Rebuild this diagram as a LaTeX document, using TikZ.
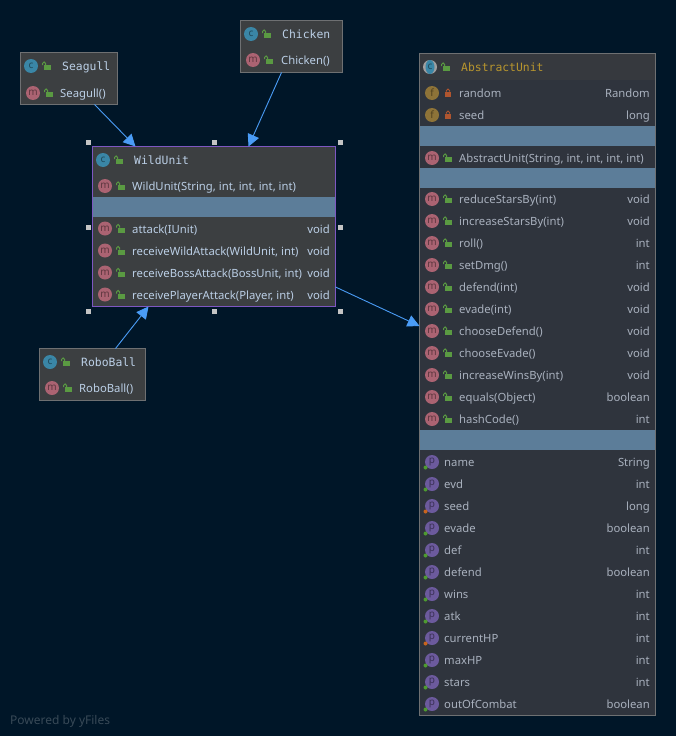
\documentclass[tikz,border=0pt]{standalone}
\usepackage{fontspec}
\setmainfont{Noto Sans}
\newfontfamily\titlefont{DejaVu Sans Mono}
\usetikzlibrary{arrows.meta,calc}
\definecolor{bgc}{HTML}{001628}
\definecolor{boxc}{HTML}{3C3F41}
\definecolor{absc}{HTML}{2F343D}
\definecolor{abshead}{HTML}{36393E}
\definecolor{edgec}{HTML}{6E7072}
\definecolor{sepc}{HTML}{5C7D99}
\definecolor{selc}{HTML}{7E57C2}
\definecolor{txtc}{HTML}{BBCFE6}
\definecolor{atxt}{HTML}{A9B1BE}
\definecolor{arrowc}{HTML}{4A9CF6}
\definecolor{iconc}{HTML}{3A86A6}
\definecolor{iconm}{HTML}{AB6372}
\definecolor{iconf}{HTML}{8E7338}
\definecolor{iconp}{HTML}{6C5A9D}
\definecolor{lockg}{HTML}{5A9A42}
\definecolor{lockr}{HTML}{B0552F}
\definecolor{dotg}{HTML}{4E9A30}
\definecolor{doto}{HTML}{C8641E}
\definecolor{titlegold}{HTML}{B8962E}
\definecolor{handlec}{HTML}{C4C4C4}
\tikzset{
  x=1pt,y=-1pt,
  classbox/.style={draw=edgec,fill=boxc,line width=1pt,rectangle,inner sep=0pt,outer sep=0pt,anchor=north west},
  inherit/.style={draw=arrowc,line width=0.9pt,-{Triangle[length=12pt,width=12pt,fill=arrowc]},shorten >=0pt},
  handle/.style={fill=handlec,draw=none,rectangle,inner sep=0pt,minimum size=5pt},
  lbl/.style={anchor=base west,inner sep=0pt,font=\fontsize{11.3}{13}\selectfont},
  rlbl/.style={anchor=base east,inner sep=0pt,font=\fontsize{11.3}{13}\selectfont},
  ttl/.style={anchor=base west,inner sep=0pt,font=\titlefont\fontsize{11.4}{13}\selectfont},
  icn/.style={circle,inner sep=0pt,minimum size=14pt,font=\fontsize{10}{10}\selectfont},
}
% icon: x, y, fill colour, letter, name
\newcommand{\icn}[5]{\node[icn,fill=#3,text=#3!55!black] (#5) at (#1,#2) {#4};}
% open green lock
\newcommand{\oplock}[2]{%
  \fill[lockg] (#1-2.5,#2-1) rectangle (#1+4.5,#2+4);
  \draw[lockg,line width=1pt] (#1-3.5,#2-1) -- (#1-3.5,#2-2.5) arc[start angle=180,end angle=0,x radius=1.6pt,y radius=1.6pt] -- (#1-0.3,#2-1);}
% closed red lock
\newcommand{\cllock}[2]{%
  \fill[lockr] (#1-3,#2-1.3) rectangle (#1+3,#2+4);
  \draw[lockr,line width=1pt] (#1-1.6,#2-1.3) -- (#1-1.6,#2-2.4) arc[start angle=180,end angle=0,x radius=1.6pt,y radius=1.6pt] -- (#1+1.6,#2-1.3);}
% method row: icon x, lock x, text x, y, text, right text, right x, text colour
\newcommand{\mrow}[8]{%
  \icn{#1}{#4}{iconm}{m}{mi#1x#4}
  \oplock{#2}{#4}
  \node[lbl,text=#8] (mt#1x#4) at (#3,#4+4.8) {#5};
  \node[rlbl,text=#8] (mr#1x#4) at (#7,#4+4.8) {#6};}
\newcommand{\frow}[3]{%
  \icn{432}{#1}{iconf}{f}{fi#1}
  \cllock{448}{#1}
  \node[lbl,text=atxt] (ft#1) at (459,#1+4.8) {#2};
  \node[rlbl,text=atxt] (fr#1) at (650,#1+4.8) {#3};}
\newcommand{\prow}[4]{%
  \icn{432}{#1}{iconp}{p}{pi#1}
  \fill[#4] (425.5,#1+5.5) circle[radius=2pt];
  \node[lbl,text=atxt] (pt#1) at (444,#1+4.8) {#2};
  \node[rlbl,text=atxt] (pr#1) at (650,#1+4.8) {#3};}
\begin{document}
\begin{tikzpicture}
\useasboundingbox (0,0) rectangle (676,736);
\fill[bgc] (0,0) rectangle (676,736);
\node[anchor=base west,inner sep=0pt,text=white!22!bgc,font=\fontsize{12}{14}\selectfont] (yf) at (10,724) {Powered by yFiles};

% ---------- Abstract unit
\node[classbox,fill=absc,minimum width=236pt,minimum height=662pt] (abs) at (419.5,53.5) {};
\fill[abshead] (420,54) rectangle (655,80);
\fill[sepc] (420,126) rectangle (655,146);
\fill[sepc] (420,168) rectangle (655,188);
\fill[sepc] (420,430) rectangle (655,450);
\fill[gray!75] (430,67) circle[radius=7pt];
\fill[iconc] (430,67) ellipse[x radius=4.5pt,y radius=7pt];
\node[inner sep=0pt,text=iconc!55!black,font=\fontsize{10}{10}\selectfont] (absl) at (430,67) {c};
\oplock{445}{67}
\node[ttl,text=titlegold] (abst) at (461,71) {AbstractUnit};
\frow{93}{random}{Random}
\frow{115}{seed}{long}
\mrow{432}{447}{459}{158}{AbstractUnit(String, int, int, int, int)}{}{650}{atxt}
\mrow{432}{447}{459}{199}{reduceStarsBy(int)}{void}{650}{atxt}
\mrow{432}{447}{459}{221}{increaseStarsBy(int)}{void}{650}{atxt}
\mrow{432}{447}{459}{243}{roll()}{int}{650}{atxt}
\mrow{432}{447}{459}{265}{setDmg()}{int}{650}{atxt}
\mrow{432}{447}{459}{287}{defend(int)}{void}{650}{atxt}
\mrow{432}{447}{459}{309}{evade(int)}{void}{650}{atxt}
\mrow{432}{447}{459}{331}{chooseDefend()}{void}{650}{atxt}
\mrow{432}{447}{459}{353}{chooseEvade()}{void}{650}{atxt}
\mrow{432}{447}{459}{375}{increaseWinsBy(int)}{void}{650}{atxt}
\mrow{432}{447}{459}{397}{equals(Object)}{boolean}{650}{atxt}
\mrow{432}{447}{459}{419}{hashCode()}{int}{650}{atxt}
\prow{462}{name}{String}{dotg}
\prow{484}{evd}{int}{dotg}
\prow{506}{seed}{long}{doto}
\prow{528}{evade}{boolean}{dotg}
\prow{550}{def}{int}{dotg}
\prow{572}{defend}{boolean}{dotg}
\prow{594}{wins}{int}{dotg}
\prow{616}{atk}{int}{dotg}
\prow{638}{currentHP}{int}{doto}
\prow{660}{maxHP}{int}{dotg}
\prow{682}{stars}{int}{dotg}
\prow{704}{outOfCombat}{boolean}{dotg}

% ---------- WildUnit
\node[classbox,draw=selc,minimum width=243pt,minimum height=160pt] (wild) at (92.5,146.5) {};
\fill[sepc] (93,197) rectangle (335,217);
\icn{103}{160}{iconc}{c}{wci}
\oplock{118}{160}
\node[ttl,text=txtc] (wt) at (134,164) {WildUnit};
\mrow{105}{120}{132}{186}{WildUnit(String, int, int, int, int)}{}{330}{txtc}
\mrow{105}{120}{132}{228.5}{attack(IUnit)}{void}{330}{txtc}
\mrow{105}{120}{132}{250.5}{receiveWildAttack(WildUnit, int)}{void}{330}{txtc}
\mrow{105}{120}{132}{272.5}{receiveBossAttack(BossUnit, int)}{void}{330}{txtc}
\mrow{105}{120}{132}{294.5}{receivePlayerAttack(Player, int)}{void}{330}{txtc}
\foreach \hx/\hy/\hn in {88/142/a,214/142/b,340/142/c,88/227/d,340/227/e,88/311/f,214/311/g,340/311/h}
  \node[handle] (h\hn) at (\hx,\hy) {};

% ---------- Seagull
\node[classbox,minimum width=97pt,minimum height=52pt] (sea) at (20.5,52.5) {};
\icn{31}{66}{iconc}{c}{sci}
\oplock{46}{66}
\node[ttl,text=txtc] (st) at (62,70) {Seagull};
\mrow{33}{48}{60}{93}{Seagull()}{}{110}{txtc}

% ---------- Chicken
\node[classbox,minimum width=102pt,minimum height=52pt] (chi) at (240.5,20.5) {};
\icn{251}{34}{iconc}{c}{cci}
\oplock{266}{34}
\node[ttl,text=txtc] (ct) at (282,38) {Chicken};
\mrow{253}{268}{281}{60}{Chicken()}{}{335}{txtc}

% ---------- RoboBall
\node[classbox,minimum width=106pt,minimum height=52pt] (rob) at (39.5,348.5) {};
\icn{50}{362}{iconc}{c}{rci}
\oplock{65}{362}
\node[ttl,text=txtc] (rt) at (81,366) {RoboBall};
\mrow{52}{67}{79}{388}{RoboBall()}{}{140}{txtc}

% ---------- Connectors
\draw[inherit] ([xshift=74pt]sea.south west) -- ([xshift=43pt]wild.north west);
\draw[inherit] ([xshift=41pt]chi.south west) -- ([xshift=156pt]wild.north west);
\draw[inherit] ([xshift=76pt]rob.north west) -- ([xshift=56pt]wild.south west);
\draw[inherit] ([yshift=19.5pt]wild.south east) -- ([yshift=-272.5pt]abs.north west);
\end{tikzpicture}
\end{document}
